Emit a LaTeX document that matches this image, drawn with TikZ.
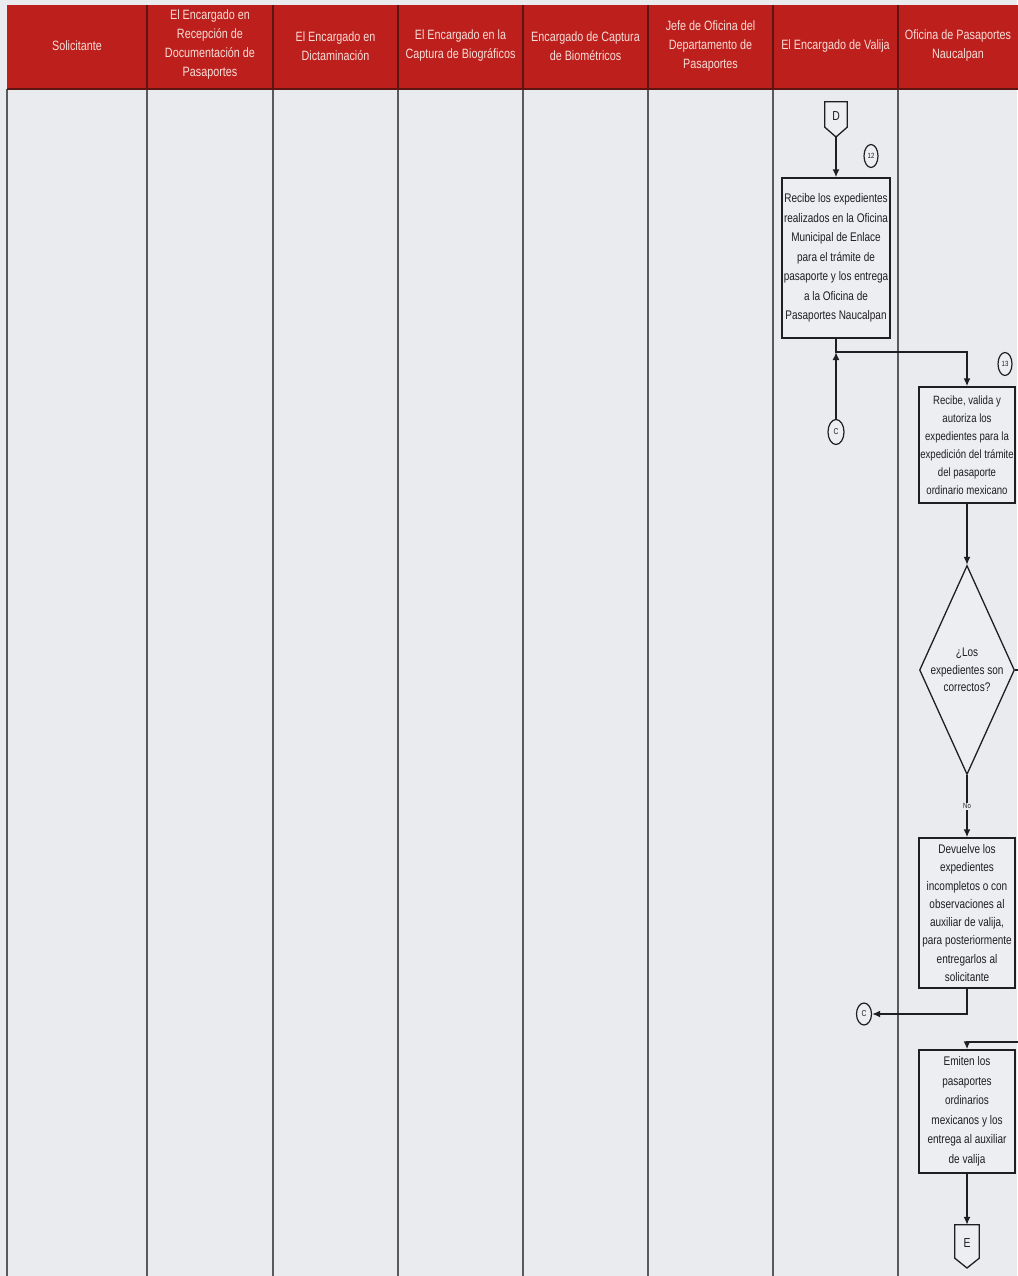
\documentclass[tikz,border=0pt]{standalone}
\usepackage{fontspec}
\setmainfont{Liberation Sans}[FakeStretch=0.8]
\usetikzlibrary{shapes.geometric,arrows.meta,calc}
\definecolor{bodybg}{HTML}{E9EBEF}
\definecolor{boxbg}{HTML}{EDEEF1}
\definecolor{headred}{HTML}{BD1F1C}
\definecolor{headtxt}{HTML}{F7DDD7}
\definecolor{headsep}{HTML}{5C1512}
\definecolor{laneline}{HTML}{5A5A5E}
\definecolor{ink}{HTML}{1F1F23}

\begin{document}
\begin{tikzpicture}[x=1pt,y=-1pt,
  lane/.style={draw=laneline,line width=1.8pt},
  hsep/.style={draw=headsep,line width=1.2pt},
  headlabel/.style={text=headtxt,align=center,font=\fontsize{13.5}{19}\selectfont},
  procbox/.style={draw=ink,line width=1.4pt,fill=boxbg,align=center,text=ink,
    inner sep=1pt,minimum width=96pt,font=\fontsize{12.5}{19.5}\selectfont},
  decision/.style={diamond,draw=ink,line width=1.3pt,fill=boxbg,align=center,text=ink,
    aspect=0.45,inner sep=0pt,minimum width=95pt,minimum height=209pt,
    font=\fontsize{12.5}{17.5}\selectfont},
  stepnum/.style={ellipse,draw=ink,line width=1.2pt,fill=boxbg,inner sep=0pt,
    minimum width=14pt,minimum height=23pt,text=ink,font=\fontsize{7.5}{7.5}\selectfont},
  onpage/.style={ellipse,draw=ink,line width=1.2pt,fill=boxbg,inner sep=0pt,
    minimum width=16pt,minimum height=25pt,text=ink,font=\fontsize{8.5}{8.5}\selectfont},
  offtext/.style={inner sep=0pt,text=ink,font=\fontsize{13}{13}\selectfont},
  offline/.style={draw=ink,line width=1.3pt,fill=boxbg},
  flow/.style={draw=ink,line width=1.7pt,-{Latex[length=8pt,width=7pt]}},
  tag/.style={fill=bodybg,inner sep=1pt,text=ink,font=\fontsize{7.5}{7.5}\selectfont},
]
\useasboundingbox (0,0) rectangle (1017,1276);

% page and header band
\fill[bodybg] (0,0) rectangle (1017,1276);
\fill[headred] (7,5) rectangle (1030,89);

% lane separators
\foreach \lx in {147,273,398,523,648,773,898}
  \draw[hsep] (\lx,5) -- (\lx,89);
\foreach \lx in {7,147,273,398,523,648,773,898}
  \draw[lane] (\lx,89) -- (\lx,1280);
\draw[hsep] (7,89) -- (1030,89);

% lane titles
\node[headlabel] (hSol) at (77,46) {Solicitante};
\node[headlabel] (hRec) at (210,45) {El Encargado en\\Recepción de\\Documentación de\\Pasaportes};
\node[headlabel] (hDic) at (335.5,46) {El Encargado en\\Dictaminación};
\node[headlabel] (hBio) at (460.5,46) {El Encargado en la\\Captura de Biográficos};
\node[headlabel] (hBiom) at (585.5,46) {Encargado de Captura\\de Biométricos};
\node[headlabel] (hJef) at (710.5,46) {Jefe de Oficina del\\Departamento de\\Pasaportes};
\node[headlabel] (hVal) at (835.5,46) {El Encargado de Valija};
\node[headlabel] (hNau) at (958,46) {Oficina de Pasaportes\\Naucalpan};

% off-page connector D
\node[offtext,minimum width=22pt,minimum height=25pt] (offD) at (836,114.5) {};
\coordinate (offDtip) at (836,137);
\draw[offline] (offD.north west) -- (offD.north east) -- (offD.south east)
  -- (offDtip) -- (offD.south west) -- cycle;
\node[offtext] (offDlbl) at (836,116) {D};

% step 12
\node[procbox,minimum width=108pt,minimum height=160pt] (box1) at (836,258)
  {Recibe los expedientes\\realizados en la Oficina\\Municipal de Enlace\\para el trámite de\\pasaporte y los entrega\\a la Oficina de\\Pasaportes Naucalpan};
\node[stepnum] (n12) at (871,156) {12};
\draw[flow] (offDtip) -- (box1.north);

% step 13
\node[procbox,minimum height=116pt,font=\fontsize{12}{18}\selectfont] (box2) at (967,445)
  {Recibe, valida y\\autoriza los\\expedientes para la\\expedición del trámite\\del pasaporte\\ordinario mexicano};
\node[stepnum] (n13) at (1005,364) {13};
\coordinate (j1) at (836,352);
\draw[flow] (box1.south) -- (j1) -| (box2.north);
\node[onpage] (c1) at (836,432) {C};
\draw[flow] (c1.north) -- (j1);

% decision
\node[decision] (dec) at (967,670) {¿Los\\expedientes son\\correctos?};
\draw[flow] (box2.south) -- (dec.north);

% no branch
\node[procbox,minimum height=150pt,font=\fontsize{12.5}{18.3}\selectfont] (box3) at (967,913)
  {Devuelve los\\expedientes\\incompletos o con\\observaciones al\\auxiliar de valija,\\para posteriormente\\entregarlos al\\solicitante};
\draw[flow] (dec.south) -- node[tag,pos=0.5] (lblNo) {No} (box3.north);
\node[onpage,minimum width=15pt,minimum height=22pt] (c2) at (864,1014) {C};
\draw[flow] (box3.south) |- (c2.east);

% yes branch
\node[procbox,minimum height=123pt] (box4) at (967,1111.5)
  {Emiten los\\pasaportes\\ordinarios\\mexicanos y los\\entrega al auxiliar\\de valija};
\coordinate (yesout) at (1032,670);
\coordinate (yesin) at (1032,1042);
\draw[flow] (dec.east) -- (yesout) -- (yesin) -| (box4.north);

% off-page connector E
\node[offtext,minimum width=24pt,minimum height=33pt] (offE) at (967,1241.5) {};
\coordinate (offEtip) at (967,1268);
\draw[offline] (offE.north west) -- (offE.north east) -- (offE.south east)
  -- (offEtip) -- (offE.south west) -- cycle;
\node[offtext] (offElbl) at (967,1243) {E};
\draw[flow] (box4.south) -- (offE.north);
\end{tikzpicture}
\end{document}
